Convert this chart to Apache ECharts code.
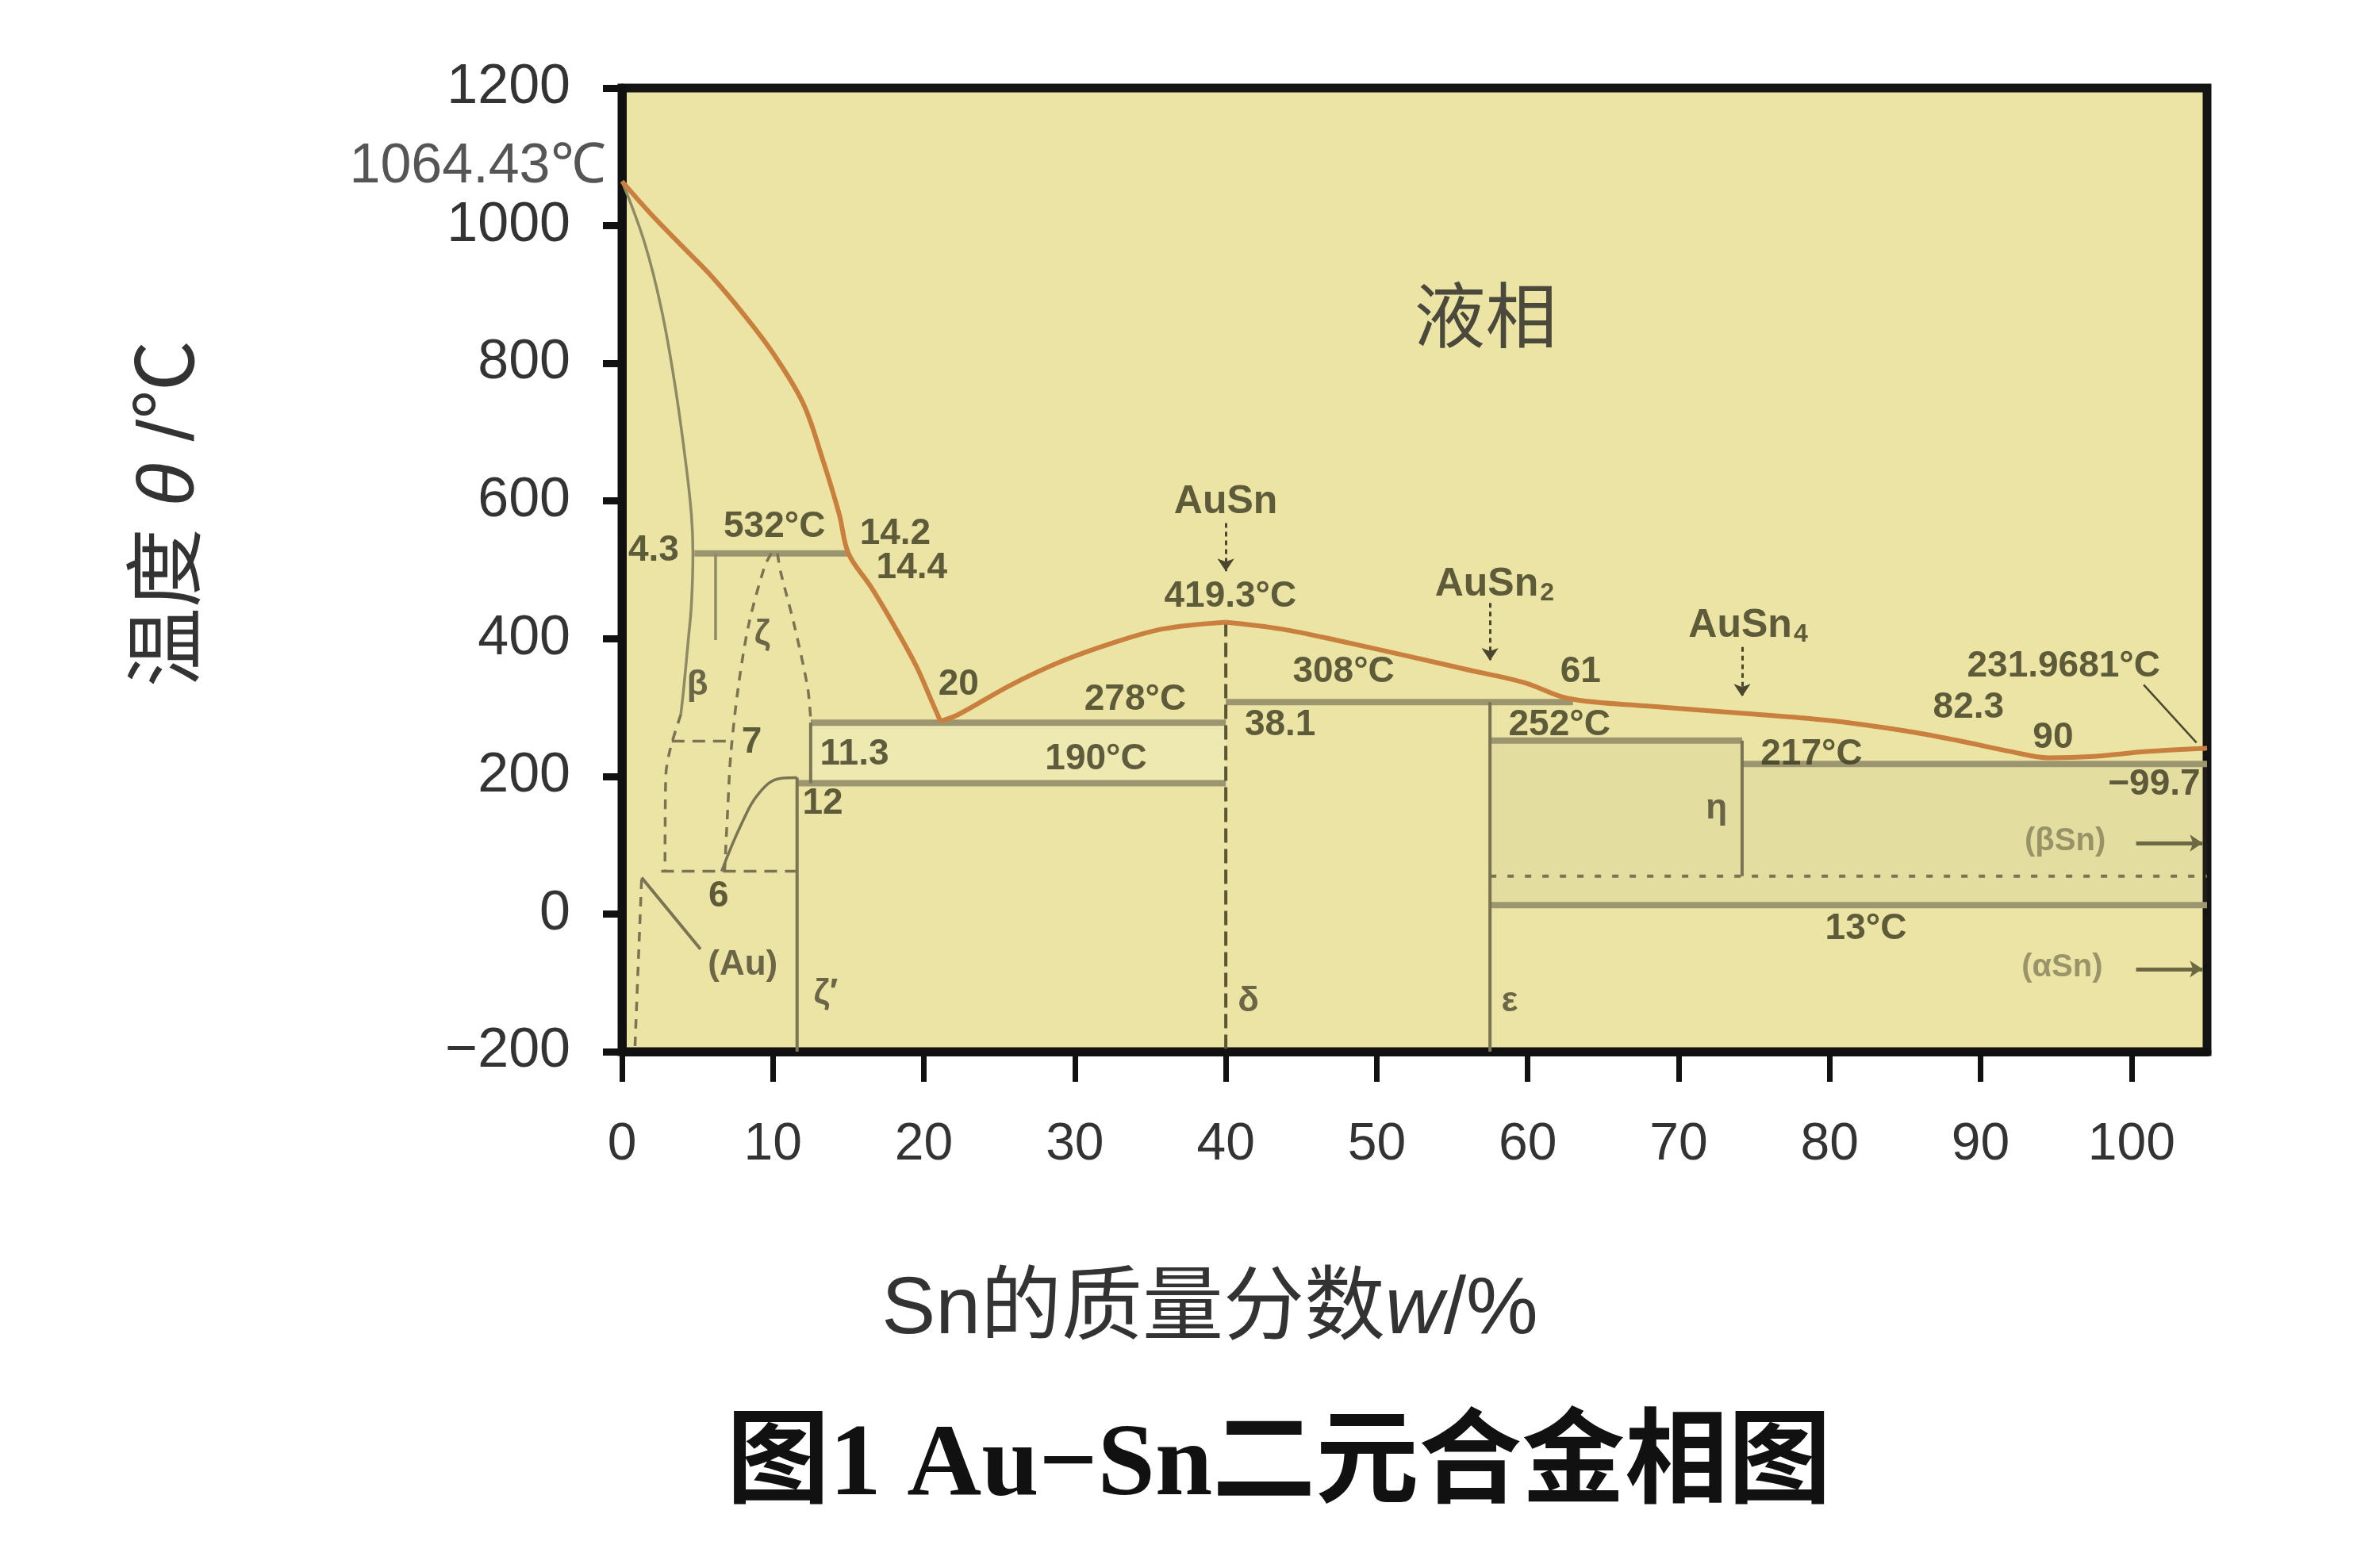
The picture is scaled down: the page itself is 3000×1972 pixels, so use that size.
<!DOCTYPE html>
<html><head><meta charset="utf-8">
<script src="https://cdn.jsdelivr.net/npm/echarts@6/dist/echarts.min.js"></script>
<style>html,body{margin:0;padding:0;background:#fff}#c{width:3000px;height:1972px}</style>
</head><body><div id="c"></div>
<script>
// ---------------- data ----------------
const xTicks = [0, 10, 20, 30, 40, 50, 60, 70, 80, 90, 100];
const yTicks = [-200, 0, 200, 400, 600, 800, 1000, 1200];

// liquidus branches (x = Sn wt%, y = °C)
const liquidusAu = [[0,1064.43],[2,1015],[4,970],[6,925],[8,873],[10,815],[12,742],[13.3,660],[14.4,580],[15.0,524],[16.5,475],[18,420],[19.5,360],[20.5,310],[21.1,280]];
const liquidusAuSn = [[21.1,280],[22.3,290],[25.7,332],[29,366],[32.4,393],[35.8,414],[40,424]];
const liquidusSn = [[40,424],[43.7,414],[47.7,396],[51.8,376],[55.8,356],[59.8,336],[62.7,313],[68,302],[74,292],[80,281],[85,266],[88.5,252],[92,236],[94.5,227],[97.5,229],[101,236],[105,241]];

// solid phase boundaries
const solidusAu = [[0,1064.43],[1.5,975],[2.6,880],[3.5,770],[4.2,660],[4.6,580],[4.7,524],[4.6,450],[4.4,400],[4.1,330],[3.9,290]];
const auSolvus = [[1.3,53],[5.2,-51]];
const zetaPrimeCurve = [[6.6,62],[7.9,130],[9.1,176],[10.5,197],[11.6,198]];
const betaRight = [[6.2,524],[6.2,398]];

// dashed boundaries
const domeLeft = [[9.9,524],[9.45,505],[8.4,421],[7.7,329],[7.2,230],[7.0,150],[6.8,62]];
const domeRight = [[10.3,524],[10.5,498],[11.4,421],[12.3,329],[12.5,283]];
const betaLeftDashed = [[3.9,290],[3.2,240],[2.9,200],[2.85,62]];
const auEdgeDashed = [[1.3,50],[1.1,-60],[0.85,-200]];

// isotherms [xFrom, xTo, temperature]
const isotherms = [[4.8,15.0,524],[12.5,40,278],[11.6,40,190],[40,63,308],[57.5,74.2,252],[74.2,105,218],[57.5,105,13]];
// vertical boundaries [x, yTop, yBottom]
const verticals = [[11.6,198,-200],[12.5,278,190],[57.5,308,-200],[74.2,252,55]];
const auSnLine = [[40,424],[40,-200]];
const dashedLevels = [[2.6,11.6,62],[3.3,7.3,251]];
const dottedLevels = [[57.5,105,55]];

// compound arrows [x, yFrom, yTo]
const compoundArrows = [[40,568,498],[57.5,452,368],[74.2,388,316]];
// tin arrows [xFrom, xTo, y]
const tinArrows = [[100.3,104.7,103],[100.3,104.7,-80]];
const tinMeltPointer = [[100.8,333],[104.3,249]];

// annotations
const valueLabels = ['532°C','4.3','14.2','14.4','20','278°C','11.3','190°C','12','7','6','419.3°C','38.1','308°C','61','252°C','217°C','82.3','90','231.9681°C','−99.7','13°C'];
const valueLabelX = [10.1,2.1,18.1,19.2,22.3,34.0,15.4,31.4,13.3,8.6,6.4,40.3,43.6,47.8,63.5,62.1,78.8,89.2,94.8,95.5,101.5,82.4];
const valueLabelY = [563,528,552,503,333,311,232,225,160,249,26,461,274,351,351,274,232,300,256,360,188,-22];

const compoundNames = ['AuSn','AuSn|2','AuSn|4'];
const compoundX = [40,57.8,74.6];
const compoundY = [598,478,418];

const phaseLabels = ['ζ′','δ','ε','η','β','ζ','(Au)'];
const phaseX = [13.5,41.5,58.8,72.5,5.0,9.3,8.0];
const phaseY = [-116,-127,-127,153,333,406,-74];

const tinPhaseLabels = ['(βSn)','(αSn)'];
const tinPhaseX = [95.6,95.4];
const tinPhaseY = [105,-78];

const liquidName = '液相';
const liquidX = 57.2, liquidY = 871;
const auMelt = [0, 1064.43];
const auMeltText = '1064.43℃';

// ---------------- chart ----------------
const OLIVE = '#3b3820';
const LINEGREY = '#9c9670';
const THIN = '#7a7454';
const LIQ = '#c9803f';

function lineSeries(data, color, width, type, smooth, z) {
  return {type:'line', data:data, symbol:'none', silent:true, animation:false,
    smooth: smooth || false, z: z || 3, clip:false,
    lineStyle:{color:color, width:width, type:type || 'solid', cap:'butt'}};
}
const series = [];

// shaded regions
series.push({type:'line', data:[], silent:true, z:1,
  markArea:{silent:true, data:[
    [{coord:[57.5,13], itemStyle:{color:'rgba(150,140,120,0.08)'}},{coord:[74.2,252]}],
    [{coord:[74.2,13], itemStyle:{color:'rgba(150,140,120,0.08)'}},{coord:[105,218]}],
    [{coord:[12.5,190], itemStyle:{color:'rgba(255,255,240,0.18)'}},{coord:[40,278]}]
  ]}});

isotherms.forEach(s => series.push(lineSeries([[s[0],s[2]],[s[1],s[2]]], LINEGREY, 8)));
verticals.forEach(s => series.push(lineSeries([[s[0],s[1]],[s[0],s[2]]], THIN, 4)));
series.push(lineSeries(auSnLine, '#5a5535', 4, [18,8]));
dashedLevels.forEach(s => series.push(lineSeries([[s[0],s[2]],[s[1],s[2]]], THIN, 3.5, [16,10])));
dottedLevels.forEach(s => series.push(lineSeries([[s[0],s[2]],[s[1],s[2]]], THIN, 4, [8,14])));

series.push(lineSeries(solidusAu, '#8f8a66', 3.5, 'solid', 0.4));
series.push(lineSeries(auSolvus, THIN, 4));
series.push(lineSeries(zetaPrimeCurve, THIN, 3.5, 'solid', 0.4));
series.push(lineSeries(betaRight, '#8f8a66', 3.5));
[domeLeft, domeRight, betaLeftDashed, auEdgeDashed].forEach(d => series.push(lineSeries(d, THIN, 3.5, [12,10], 0.3)));

// liquidus
[liquidusAu, liquidusAuSn, liquidusSn].forEach(d => series.push(lineSeries(d, LIQ, 6, 'solid', 0.35, 4)));

// arrows
series.push({type:'lines', coordinateSystem:'cartesian2d', silent:true, z:4,
  symbol:['none','arrow'], symbolSize:[0,16],
  lineStyle:{color:'#4a4630', width:3, type:[6,5], opacity:1},
  data: compoundArrows.map(a => ({coords:[[a[0],a[1]],[a[0],a[2]]]}))});
series.push({type:'lines', coordinateSystem:'cartesian2d', silent:true, z:4,
  symbol:['none','arrow'], symbolSize:[0,16],
  lineStyle:{color:'#6d6844', width:5, opacity:1},
  data: tinArrows.map(a => ({coords:[[a[0],a[2]],[a[1],a[2]]]}))});
series.push(lineSeries(tinMeltPointer, '#4a4630', 2.5));

function labelSeries(texts, xs, ys, labelOpt) {
  return {type:'scatter', symbolSize:1, silent:true, z:6, clip:false,
    itemStyle:{color:'transparent'},
    data: texts.map((t,i) => ({value:[xs[i], ys[i]], name:t})),
    label: Object.assign({show:true, position:'inside', formatter:'{b}'}, labelOpt)};
}
series.push(labelSeries(valueLabels, valueLabelX, valueLabelY,
  {fontSize:46, fontWeight:'bold', color:OLIVE, fontFamily:'"Liberation Sans", Arial, sans-serif'}));
series.push(labelSeries(phaseLabels, phaseX, phaseY,
  {fontSize:44, fontWeight:'bold', color:'#4a4630', fontFamily:'"Liberation Sans", "DejaVu Sans", sans-serif'}));
series.push(labelSeries(tinPhaseLabels, tinPhaseX, tinPhaseY,
  {fontSize:40, fontWeight:'bold', color:'#857f5a', fontFamily:'"Liberation Sans", "DejaVu Sans", sans-serif'}));
series.push(labelSeries(compoundNames, compoundX, compoundY,
  {fontFamily:'"Liberation Sans", Arial, sans-serif',
   formatter: p => { const s = p.name.split('|'); return s.length > 1 ? '{a|' + s[0] + '}{s|' + s[1] + '}' : '{a|' + s[0] + '}'; },
   rich:{a:{fontSize:50, fontWeight:'bold', color:OLIVE, fontFamily:'"Liberation Sans", Arial, sans-serif'},
         s:{fontSize:32, fontWeight:'bold', color:OLIVE, verticalAlign:'bottom', padding:[22,0,0,2], fontFamily:'"Liberation Sans", Arial, sans-serif'}}}));
series.push(labelSeries([liquidName], [liquidX], [liquidY],
  {fontSize:90, color:'#222', fontFamily:'"Noto Sans CJK SC", sans-serif'}));
series.push(labelSeries([auMeltText], [auMelt[0]], [auMelt[1]],
  {position:'left', distance:20, offset:[0,-18], fontSize:70, color:'#2b2b2b', fontFamily:'"Liberation Sans", Arial, sans-serif'}));

const AXF = '"Liberation Sans", "Noto Sans CJK SC", sans-serif';
const option = {
  animation:false,
  backgroundColor:'#ffffff',
  title:{text:'图1 Au−Sn二元合金相图', left:1607, top:1780, textAlign:'center',
    textStyle:{fontSize:130, fontWeight:'bold', color:'#111', fontFamily:'"Liberation Serif", "Noto Sans CJK SC", serif'}},
  grid:{left:784, right:218, top:111, bottom:646, show:true, backgroundColor:'#ebe4a4',
    borderColor:'#141414', borderWidth:11, containLabel:false, outerBoundsMode:'none'},
  xAxis:{type:'value', min:0, max:105, interval:10,
    name:'{a|Sn的质量分数}{i|w}{a|/%}', nameLocation:'middle', nameGap:276,
    nameTextStyle:{padding:[0,516,0,0], rich:{a:{fontSize:102, color:'#333', fontFamily:AXF}, i:{fontSize:102, color:'#333', fontStyle:'italic', fontFamily:AXF}}},
    axisLine:{show:true, onZero:false, lineStyle:{color:'#111', width:11}},
    axisTick:{show:true, inside:false, length:38, customValues:xTicks, lineStyle:{color:'#111', width:7}},
    axisLabel:{customValues:xTicks, margin:85, fontSize:66, color:'#333', fontFamily:AXF},
    splitLine:{show:false}},
  yAxis:{type:'value', min:-200, max:1200, interval:200,
    name:'{a|温度 }{i|θ}{a| /℃}', nameLocation:'middle', nameRotate:90, nameGap:518,
    nameTextStyle:{padding:[0,0,0,142], rich:{a:{fontSize:100, color:'#333', fontFamily:AXF}, i:{fontSize:100, color:'#333', fontStyle:'italic', fontFamily:AXF}}},
    axisLine:{show:true, onZero:false, lineStyle:{color:'#111', width:11}},
    axisTick:{show:true, inside:false, length:24, customValues:yTicks, lineStyle:{color:'#111', width:9}},
    axisLabel:{customValues:yTicks, margin:65, fontSize:70, color:'#333', fontFamily:AXF,
      formatter: v => v < 0 ? '−' + Math.abs(v) : String(v)},
    splitLine:{show:false}},
  series: series
};
const chart = echarts.init(document.getElementById('c'), null, {renderer:'canvas'});
chart.setOption(option);
</script></body></html>
